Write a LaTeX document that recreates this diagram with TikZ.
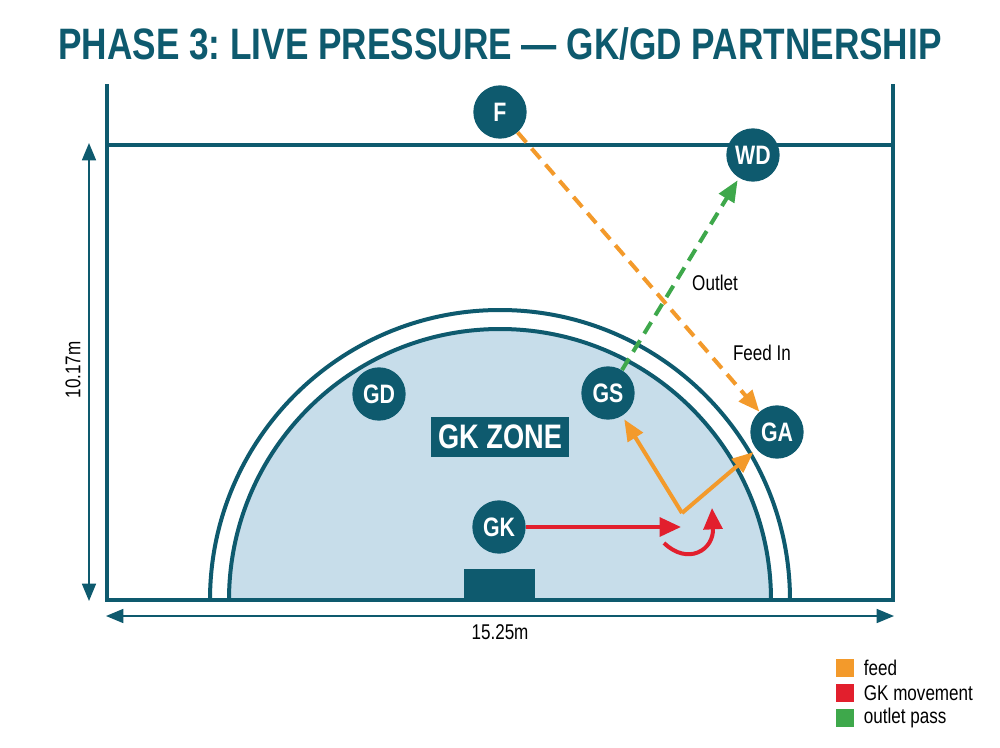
\documentclass[tikz,border=0pt]{standalone}
\usepackage{fontspec}
\setmainfont{Liberation Sans}
\newfontfamily\condfont[FakeStretch=0.8]{Liberation Sans}
\usetikzlibrary{arrows.meta,positioning}
\frenchspacing

\definecolor{courtteal}{HTML}{0E5A6E}
\definecolor{zoneblue}{HTML}{C7DDEA}
\definecolor{feedorange}{HTML}{F39A2B}
\definecolor{gkred}{HTML}{E21F2D}
\definecolor{outgreen}{HTML}{3EA84B}

\begin{document}
\begin{tikzpicture}[x=0.75pt,y=-0.75pt]
	\tikzset{player/.style={circle,fill=courtteal,minimum size=40pt,inner sep=0pt,text=white,
			font=\condfont\bfseries\fontsize{20}{20}\selectfont},
		courtline/.style={draw=courtteal,line width=3pt},
		dimline/.style={draw=courtteal,line width=1.2pt,{Triangle[length=13pt,width=10.5pt]}-{Triangle[length=13pt,width=10.5pt]}},
		feed/.style={draw=feedorange,line width=3pt,-{Triangle[length=16pt,width=13pt]}},
		gkmove/.style={draw=gkred,line width=3pt,-{Triangle[length=16pt,width=14pt]}},
		outlet/.style={draw=outgreen,line width=3pt,-{Triangle[length=16pt,width=13pt]}},
		dashy/.style={dash pattern=on 10pt off 6pt},
		smalltext/.style={font=\condfont\fontsize{16}{16}\selectfont,text=black},
		legbox/.style={minimum size=13.5pt,inner sep=0pt}}
	\def\rout{290} \def\rin{271}
	\path[use as bounding box,fill=white] (0,0) rectangle (1000,747);
	% title
	\node[font=\condfont\bfseries\fontsize{33}{33}\selectfont,text=courtteal] (title) at (500,44)
		{PHASE 3: LIVE PRESSURE — GK/GD PARTNERSHIP};
	% circle area
	\fill[zoneblue] ({500-\rin},600) arc[start angle=180,end angle=360,radius=\rin] -- cycle;
	\draw[courtline] ({500-\rin},600) arc[start angle=180,end angle=360,radius=\rin];
	\draw[courtline] ({500-\rout},600) arc[start angle=180,end angle=360,radius=\rout];
	% court
	\draw[courtline] (107,84) -- (107,600) -- (893,600) -- (893,84);
	\draw[courtline] (107,145) -- (893,145);
	\fill[courtteal] (464,569) rectangle (535,600);
	% dimensions
	\coordinate (sideT) at (89,143);
	\coordinate (sideB) at (89,601);
	\coordinate (baseL) at (106,616);
	\coordinate (baseR) at (894,616);
	\draw[dimline] (sideT) -- (sideB);
	\draw[dimline] (baseL) -- (baseR);
	\node[smalltext,rotate=90] (width) at (73,370) {10.17m};
	\node[smalltext] (length) at (500,632) {15.25m};
	% zone label
	\node[fill=courtteal,text=white,minimum width=103.5pt,minimum height=30pt,
		font=\condfont\bfseries\fontsize{25.5}{25.5}\selectfont] (zone) at (500,437) {GK ZONE};
	% players
	\foreach \p/\x/\y in {F/500/112,WD/753/155,GD/379/394,GS/608/393,GA/777/432,GK/499/527}
		\node[player] (\p) at (\x,\y) {\p};
	% passes
	\draw[feed,dashy] (F) -- (GA);
	\draw[outlet,dashy,shorten >=2pt] (GS) -- (WD);
	\node[smalltext] (outletlbl) at (715,283) {Outlet};
	\node[smalltext] (feedlbl) at (762,353) {Feed In};
	% GK movement
	\coordinate (pivot) at (682,513);
	\coordinate (gkrun) at (681,527);
	\coordinate (turnA) at (664,543);
	\coordinate (turnB) at (712,508);
	\draw[feed,shorten >=3pt] (pivot) -- (GS);
	\draw[feed,shorten >=3pt] (pivot) -- (GA);
	\draw[gkmove] (GK) -- (gkrun);
	\draw[gkmove] (turnA) .. controls (688,566) and (714,550) .. (turnB);
	% legend
	\foreach \col/\txt [count=\i] in {feedorange/feed,gkred/GK movement,outgreen/outlet pass}{
		\node[legbox,fill=\col] (key\i) at (845,{668+25*(\i-1)}) {};
		\node[smalltext,inner sep=1pt,right=6pt of key\i] (keytext\i) {\txt};
	}
\end{tikzpicture}
\end{document}
